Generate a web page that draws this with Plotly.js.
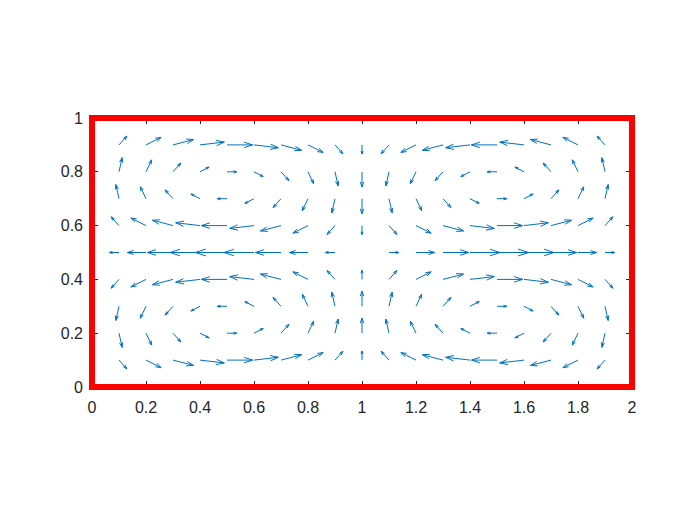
<!DOCTYPE html>
<html>
<head>
<meta charset="utf-8">
<script src="https://cdn.plot.ly/plotly-3.0.1.min.js"></script>
<style>html,body{margin:0;padding:0;background:#fff;}#chart{width:700px;height:525px;}</style>
</head>
<body>
<div id="chart"></div>
<script>
// grid positions
const xGrid = [0.1,0.2,0.3,0.4,0.5,0.6,0.7,0.8,0.9,1.0,1.1,1.2,1.3,1.4,1.5,1.6,1.7,1.8,1.9];
const yGrid = [0.1,0.2,0.3,0.4,0.5,0.6,0.7,0.8,0.9];

// horizontal components, one row per y value (bottom to top)
const uRows = [
  [0.25,0.48,0.65,0.77,0.81,0.77,0.65,0.48,0.25,0,-0.25,-0.48,-0.65,-0.77,-0.81,-0.77,-0.65,-0.48,-0.25],
  [0.10,0.18,0.25,0.29,0.31,0.29,0.25,0.18,0.10,0,-0.10,-0.18,-0.25,-0.29,-0.31,-0.29,-0.25,-0.18,-0.10],
  [-0.10,-0.18,-0.25,-0.29,-0.31,-0.29,-0.25,-0.18,-0.10,0,0.10,0.18,0.25,0.29,0.31,0.29,0.25,0.18,0.10],
  [-0.25,-0.48,-0.65,-0.77,-0.81,-0.77,-0.65,-0.48,-0.25,0,0.25,0.48,0.65,0.77,0.81,0.77,0.65,0.48,0.25],
  [-0.31,-0.59,-0.81,-0.95,-1.00,-0.95,-0.81,-0.59,-0.31,0,0.31,0.59,0.81,0.95,1.00,0.95,0.81,0.59,0.31],
  [-0.25,-0.48,-0.65,-0.77,-0.81,-0.77,-0.65,-0.48,-0.25,0,0.25,0.48,0.65,0.77,0.81,0.77,0.65,0.48,0.25],
  [-0.10,-0.18,-0.25,-0.29,-0.31,-0.29,-0.25,-0.18,-0.10,0,0.10,0.18,0.25,0.29,0.31,0.29,0.25,0.18,0.10],
  [0.10,0.18,0.25,0.29,0.31,0.29,0.25,0.18,0.10,0,-0.10,-0.18,-0.25,-0.29,-0.31,-0.29,-0.25,-0.18,-0.10],
  [0.25,0.48,0.65,0.77,0.81,0.77,0.65,0.48,0.25,0,-0.25,-0.48,-0.65,-0.77,-0.81,-0.77,-0.65,-0.48,-0.25]
];

// vertical components, one row per y value (bottom to top)
const vRows = [
  [-0.28,-0.24,-0.17,-0.09,0,0.09,0.17,0.24,0.28,0.29,0.28,0.24,0.17,0.09,0,-0.09,-0.17,-0.24,-0.28],
  [-0.45,-0.38,-0.28,-0.15,0,0.15,0.28,0.38,0.45,0.48,0.45,0.38,0.28,0.15,0,-0.15,-0.28,-0.38,-0.45],
  [-0.45,-0.38,-0.28,-0.15,0,0.15,0.28,0.38,0.45,0.48,0.45,0.38,0.28,0.15,0,-0.15,-0.28,-0.38,-0.45],
  [-0.28,-0.24,-0.17,-0.09,0,0.09,0.17,0.24,0.28,0.29,0.28,0.24,0.17,0.09,0,-0.09,-0.17,-0.24,-0.28],
  [0,0,0,0,0,0,0,0,0,0,0,0,0,0,0,0,0,0,0],
  [0.28,0.24,0.17,0.09,0,-0.09,-0.17,-0.24,-0.28,-0.29,-0.28,-0.24,-0.17,-0.09,0,0.09,0.17,0.24,0.28],
  [0.45,0.38,0.28,0.15,0,-0.15,-0.28,-0.38,-0.45,-0.48,-0.45,-0.38,-0.28,-0.15,0,0.15,0.28,0.38,0.45],
  [0.45,0.38,0.28,0.15,0,-0.15,-0.28,-0.38,-0.45,-0.48,-0.45,-0.38,-0.28,-0.15,0,0.15,0.28,0.38,0.45],
  [0.28,0.24,0.17,0.09,0,-0.09,-0.17,-0.24,-0.28,-0.29,-0.28,-0.24,-0.17,-0.09,0,0.09,0.17,0.24,0.28]
];

const xTicks = [0,0.2,0.4,0.6,0.8,1,1.2,1.4,1.6,1.8,2];
const xTickText = ['0','0.2','0.4','0.6','0.8','1','1.2','1.4','1.6','1.8','2'];
const yTicks = [0,0.2,0.4,0.6,0.8,1];
const yTickText = ['0','0.2','0.4','0.6','0.8','1'];

// quiver autoscale (like MATLAB): 0.9 * cell diagonal / max magnitude
const delx = (xGrid[xGrid.length-1]-xGrid[0]) / xGrid.length;
const dely = (yGrid[yGrid.length-1]-yGrid[0]) / yGrid.length;
let maxMag = 0;
uRows.forEach((row,i)=>row.forEach((u,j)=>{const m=Math.hypot(u,vRows[i][j]); if(m>maxMag) maxMag=m;}));
const S = 0.9*Math.sqrt(delx*delx+dely*dely)/maxMag;
const alpha = 0.33, beta = 0.33;

const sx = [], sy = [], hx = [], hy = [];
yGrid.forEach((y,i)=>{
  xGrid.forEach((x,j)=>{
    const u = uRows[i][j]*S, v = vRows[i][j]*S;
    if (Math.hypot(u,v) < 1e-9) return;
    sx.push(x, x+u, null); sy.push(y, y+v, null);
    hx.push(x+u-alpha*(u+beta*v), x+u, x+u-alpha*(u-beta*v), null);
    hy.push(y+v-alpha*(v-beta*u), y+v, y+v-alpha*(v+beta*u), null);
  });
});

const blue = '#0072BD';
const traces = [
  {x: sx, y: sy, mode:'lines', type:'scatter', line:{color:blue, width:1}, hoverinfo:'skip', showlegend:false},
  {x: hx, y: hy, mode:'lines', type:'scatter', line:{color:blue, width:1}, hoverinfo:'skip', showlegend:false}
];

const axisFont = {family:'"Liberation Sans", Arial, Helvetica, sans-serif', size:16, color:'#262626'};
const layout = {
  width:700, height:525,
  margin:{l:92, r:68, t:118, b:138, pad:0},
  paper_bgcolor:'#fff', plot_bgcolor:'#fff',
  showlegend:false,
  xaxis:{range:[0,2], tickvals:xTicks, ticktext:xTickText, ticks:'inside', ticklen:6, tickwidth:1, tickcolor:'#262626',
         showgrid:false, zeroline:false, showline:false, tickfont:axisFont, fixedrange:true, ticklabelstandoff:9},
  yaxis:{range:[0,1], tickvals:yTicks, ticktext:yTickText, ticks:'inside', ticklen:6, tickwidth:1, tickcolor:'#262626',
         showgrid:false, zeroline:false, showline:false, tickfont:axisFont, fixedrange:true, ticklabelstandoff:8},
  xaxis2:{overlaying:'x', side:'top', range:[0,2], tickvals:xTicks, showticklabels:false, ticks:'inside', ticklen:6, tickcolor:'#262626', showgrid:false, zeroline:false},
  yaxis2:{overlaying:'y', side:'right', range:[0,1], tickvals:yTicks, showticklabels:false, ticks:'inside', ticklen:6, tickcolor:'#262626', showgrid:false, zeroline:false},
  shapes:[{type:'rect', xref:'paper', yref:'paper', x0:0, x1:1, y0:0, y1:1, line:{color:'#FF0000', width:6}, layer:'above'}]
};
traces.push({x:[null], y:[null], xaxis:'x2', yaxis:'y2', type:'scatter', mode:'lines', hoverinfo:'skip', showlegend:false});

Plotly.newPlot('chart', traces, layout, {displayModeBar:false, staticPlot:true});
</script>
</body>
</html>
